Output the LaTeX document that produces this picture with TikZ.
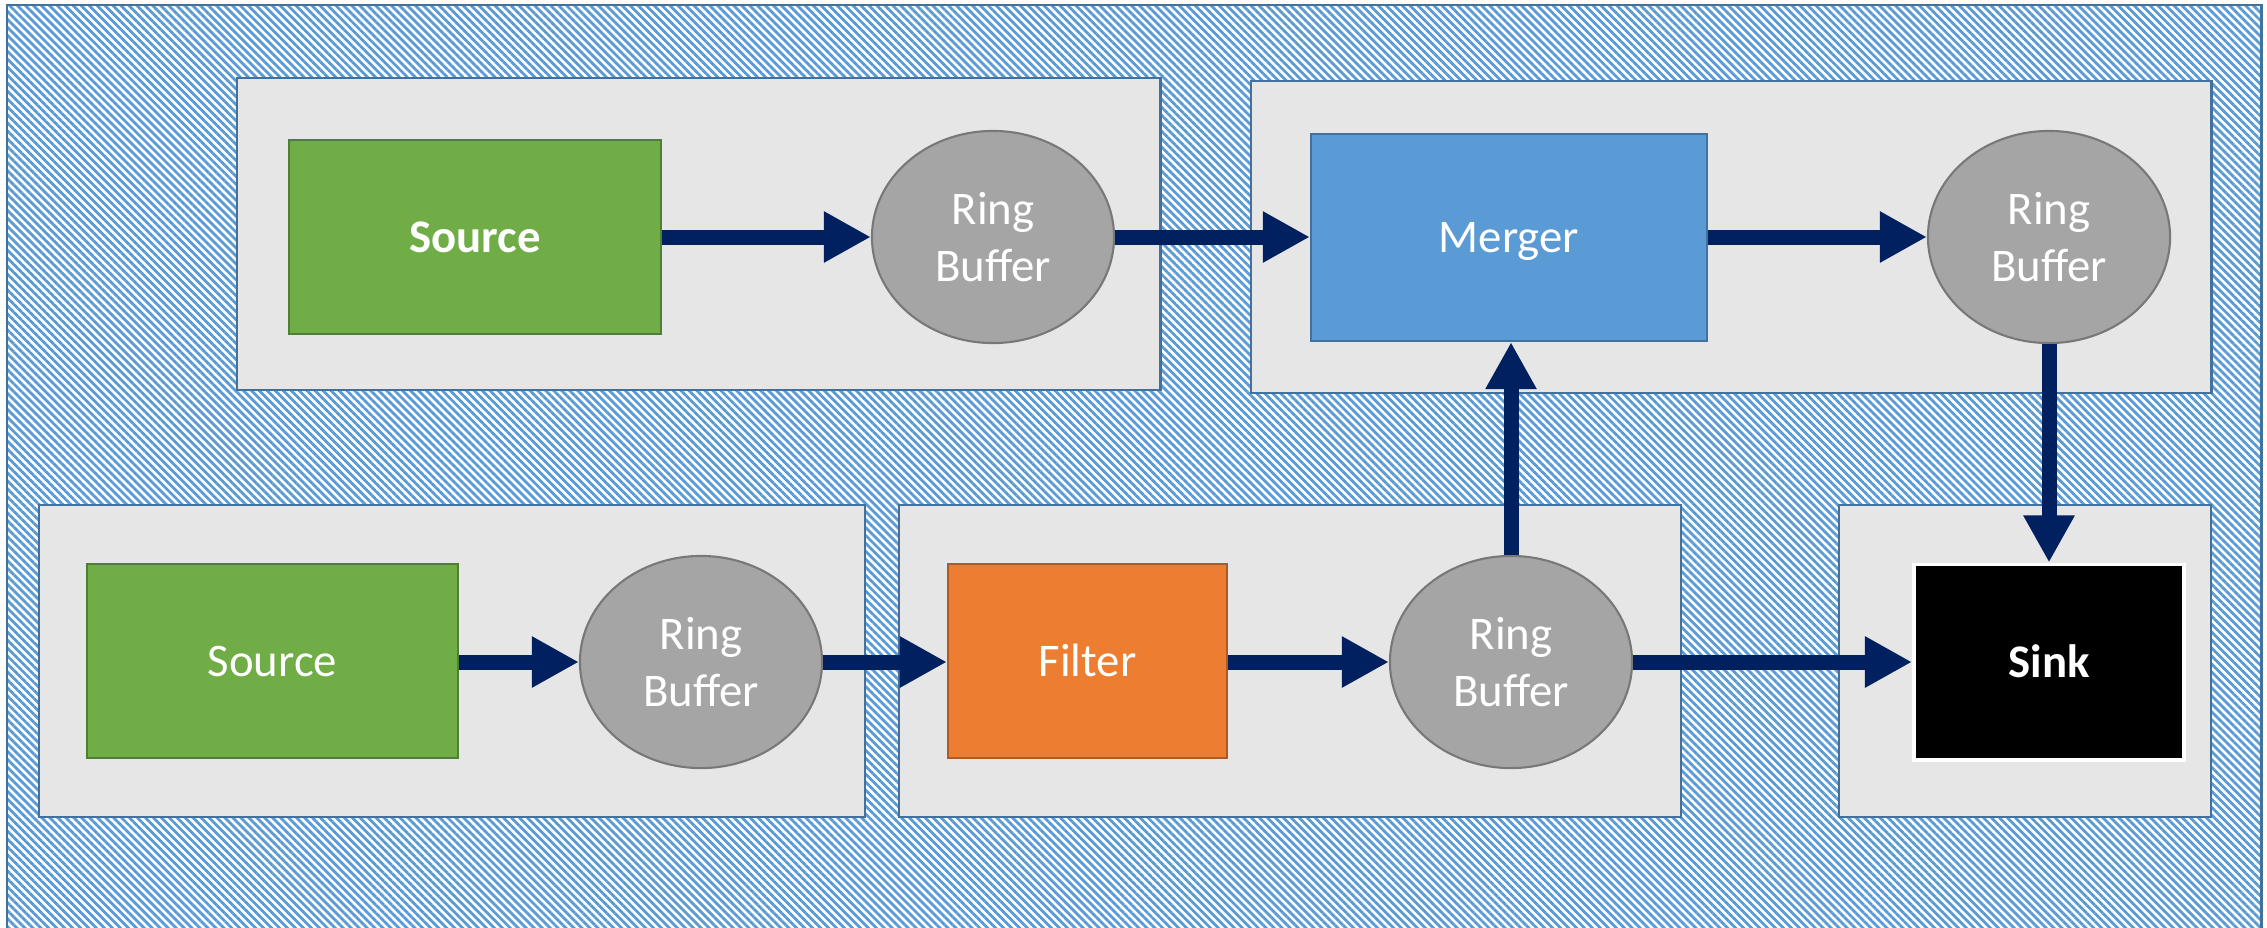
\documentclass[tikz,border=0pt]{standalone}
\usepackage{fontspec}
\setmainfont{Carlito}
\usetikzlibrary{shapes.geometric,arrows.meta,patterns.meta}
\definecolor{panelfill}{HTML}{E7E6E6}
\definecolor{panelline}{HTML}{41719C}
\definecolor{hatch}{HTML}{5B9BD5}
\definecolor{srcfill}{HTML}{70AD47}
\definecolor{srcline}{HTML}{507E32}
\definecolor{mrgfill}{HTML}{5B9BD5}
\definecolor{mrgline}{HTML}{41719C}
\definecolor{filfill}{HTML}{ED7D31}
\definecolor{filline}{HTML}{AE5A21}
\definecolor{rbfill}{HTML}{A5A5A5}
\definecolor{rbline}{HTML}{787878}
\definecolor{navy}{HTML}{002060}
\begin{document}
\begin{tikzpicture}[x=0.01cm,y=-0.01cm,
 panel/.style={draw=panelline,fill=panelfill,line width=0.7pt,inner sep=0pt,rectangle},
 box/.style={rectangle,inner sep=0pt,line width=0.6pt,text=white,text height=8.6pt,text depth=0pt,font=\fontsize{13.3}{16.2}\selectfont},
 ring/.style={ellipse,draw=rbline,fill=rbfill,line width=0.6pt,inner sep=0pt,minimum width=2.42cm,minimum height=2.12cm,text=white,align=center,font=\fontsize{13.3}{16.2}\selectfont},
 flow/.style={draw=navy,line width=0.15cm,-{Triangle[length=0.47cm,width=0.48cm]}}]

\useasboundingbox (0,0) rectangle (2267,927);
\clip (0,0) rectangle (2267,927);
\fill[white] (7,5) rectangle (2261,945);
\fill[pattern={Lines[angle=-45,distance=1.6pt,line width=0.8pt]},pattern color=hatch] (7,5) rectangle (2261,945);
\draw[panelline,line width=0.85pt] (7,945) -- (7,5) -- (2261,5) -- (2261,945);

% panels
\node[panel,minimum width=9.23cm,minimum height=3.12cm] (pa) at (698.5,234) {};
\node[panel,minimum width=9.60cm,minimum height=3.12cm] (pb) at (1731,237) {};
\node[panel,minimum width=8.26cm,minimum height=3.12cm] (pc) at (452,661) {};
\node[panel,minimum width=7.82cm,minimum height=3.12cm] (pd) at (1290,661) {};
\node[panel,minimum width=3.72cm,minimum height=3.12cm] (pe) at (2025,661) {};

% blocks
\node[box,draw=srcline,fill=srcfill,minimum width=3.72cm,minimum height=1.94cm] (src1) at (475,237) {\textbf{Source}};
\node[ring] (rb1) at (993,237) {Ring\\Buffer};
\node[box,draw=mrgline,fill=mrgfill,minimum width=3.96cm,minimum height=2.07cm] (merger) at (1509,237.5) {Merger};
\node[ring] (rb2) at (2049,237) {Ring\\Buffer};
\node[box,draw=srcline,fill=srcfill,minimum width=3.71cm,minimum height=1.94cm] (src2) at (272.5,661) {Source};
\node[ring] (rb3) at (701,662) {Ring\\Buffer};
\node[box,draw=filline,fill=filfill,minimum width=2.79cm,minimum height=1.94cm] (filter) at (1087.5,661) {Filter};
\node[ring] (rb4) at (1511,662) {Ring\\Buffer};
\node[box,draw=white,fill=black,line width=1.1pt,minimum width=2.70cm,minimum height=1.95cm] (sink) at (2049,662) {\textbf{Sink}};

% connectors
\draw[flow] (src1.east) -- (rb1.west);
\draw[flow] (rb1.east) -- (merger.west |- rb1.east);
\draw[flow] (merger.east |- rb2.west) -- (rb2.west);
\draw[flow] (rb2.south) -- (sink.north);
\draw[flow] (src2.east |- rb3.west) -- (rb3.west);
\draw[flow] (rb3.east) -- (filter.west |- rb3.east);
\draw[flow] (filter.east |- rb4.west) -- (rb4.west);
\draw[flow] (rb4.north) -- (rb4.north |- merger.south);
\draw[flow] (rb4.east) -- (sink.west |- rb4.east);
\end{tikzpicture}
\end{document}
